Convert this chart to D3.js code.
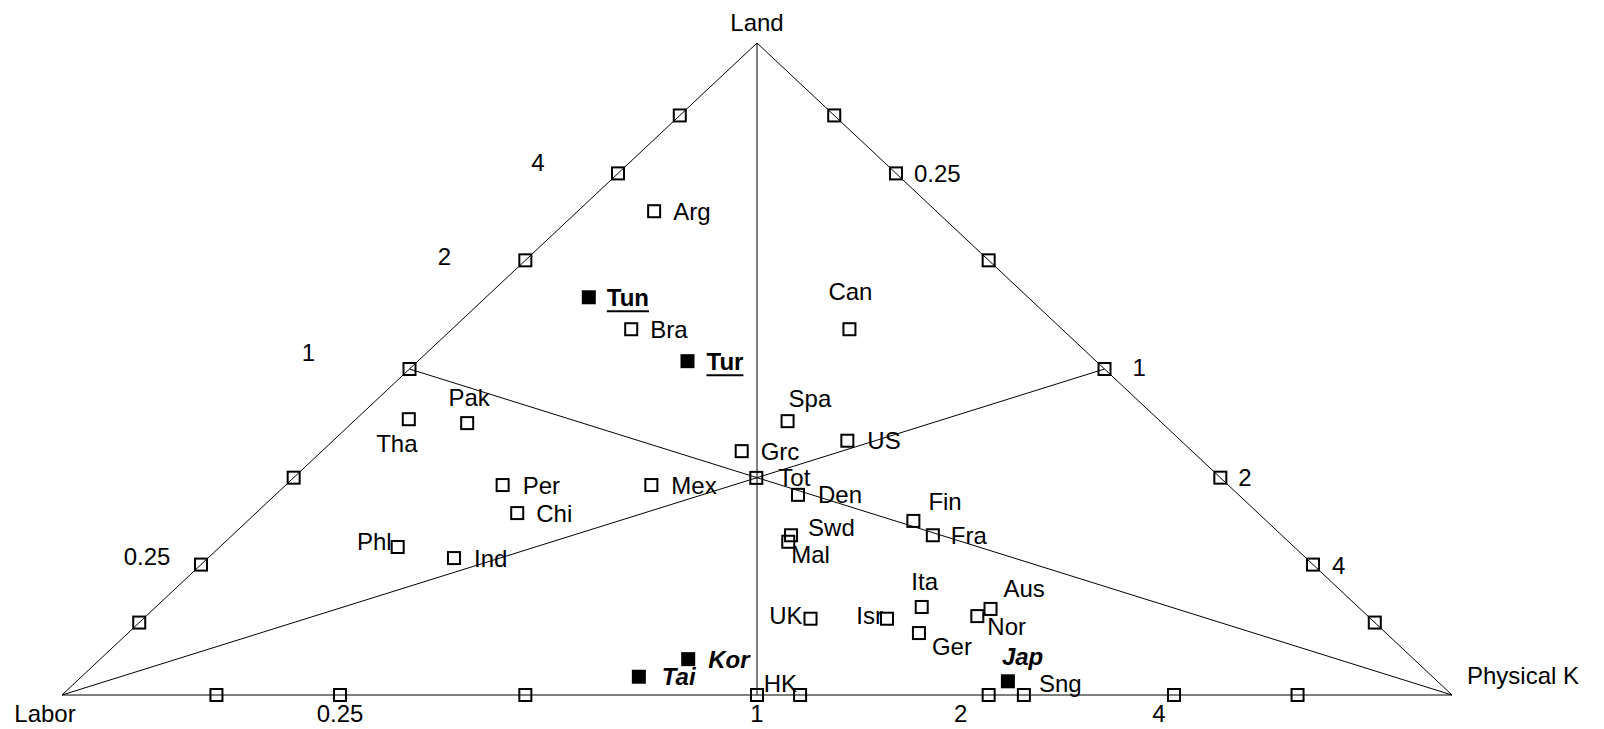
<!DOCTYPE html>
<html lang="en">
<head>
    <meta charset="UTF-8">
    <title>Factor endowment triangle</title>
    <script src="https://d3js.org/d3.v7.min.js"></script>
    <style>
      body { margin: 0; background: #fff; }
      text { font-family: "Liberation Sans", Arial, sans-serif; font-size: 24px; fill: #000; }
    </style>
</head>
<body>
    <script>

      // shares of the three factors (labor share = 1 - capital - land)
      const countries    = ["Arg","Tun","Bra","Tur","Can","Spa","US","Grc","Tot","Pak","Tha","Per","Chi","Mex","Phl","Ind",
                            "Den","Swd","Mal","Fin","Fra","Ita","Aus","Nor","Isr","UK","Ger","Jap","Sng","HK","Kor","Tai"];
      const capitalShare = [0.055,0.074,0.129,0.194,0.286,0.312,0.370,0.302,0.333,0.083,0.038,0.156,0.188,0.263,0.128,0.177,
                            0.376,0.402,0.405,0.479,0.504,0.551,0.602,0.598,0.535,0.480,0.569,0.670,0.692,0.531,0.423,0.401];
      const landShare    = [0.742,0.610,0.561,0.512,0.561,0.420,0.390,0.374,0.333,0.417,0.423,0.322,0.279,0.322,0.227,0.210,
                            0.307,0.245,0.235,0.267,0.245,0.135,0.132,0.121,0.117,0.117,0.095,0.021,0.000,0.000,0.055,0.028];

      const filled     = ["Tun","Tur","Kor","Tai","Jap"];
      const underlined = ["Tun","Tur"];
      const boldItalic = ["Kor","Tai","Jap"];

      // factor ratio ticks on each side of the triangle
      const ratioTicks  = [0.125, 0.25, 0.5, 1, 2, 4, 8];
      const ratioLabels = [0.25, 1, 2, 4];
      const cornerNames = ["Labor", "Physical K", "Land"];

      const W = 1604, H = 729;
      const svg = d3.select("body").append("svg").attr("width", W).attr("height", H);

      const x = d3.scaleLinear().domain([0, 1]).range([62, 1452]);
      const y = d3.scaleLinear().domain([0, 1]).range([695, 43]);

      // ternary -> screen
      function project(k, land){
        return [x(k + land / 2), y(land)];
      }

      const labor = project(0, 0), capital = project(1, 0), land = project(0, 1);
      const centre = project(1/3, 1/3);

      // triangle outline and the three medians
      const g = svg.append("g").attr("stroke", "#000").attr("stroke-width", 1).attr("fill", "none");
      g.append("path").attr("d", d3.line()([labor, capital, land, labor]));
      g.append("line").attr("x1", land[0]).attr("y1", land[1]).attr("x2", project(0.5, 0)[0]).attr("y2", project(0.5, 0)[1]);
      g.append("line").attr("x1", labor[0]).attr("y1", labor[1]).attr("x2", project(0.5, 0.5)[0]).attr("y2", project(0.5, 0.5)[1]);
      g.append("line").attr("x1", capital[0]).attr("y1", capital[1]).attr("x2", project(0, 0.5)[0]).attr("y2", project(0, 0.5)[1]);

      const frac = r => r / (1 + r);

      // tick points along the sides
      const sides = [
        { name: "base",  pt: r => project(frac(r), 0) },          // K / Labor
        { name: "left",  pt: r => project(0, frac(r)) },          // Land / Labor
        { name: "right", pt: r => project(frac(r), 1 - frac(r)) } // K / Land
      ];

      const sq = 12;
      function square(sel, p, solid){
        sel.append("rect")
          .attr("x", p[0] - sq / 2).attr("y", p[1] - sq / 2)
          .attr("width", sq).attr("height", sq)
          .attr("fill", solid ? "#000" : "none")
          .attr("stroke", "#000").attr("stroke-width", 2);
      }

      const tickG = svg.append("g");
      sides.forEach(s => ratioTicks.forEach(r => square(tickG, s.pt(r), false)));

      // where the ratio labels sit relative to their tick
      const labelShift = {
        base:  { 0.25: [0, 18], 1: [0, 18], 2: [-28, 18], 4: [-15, 18] },
        left:  { 0.25: [-54, -8], 1: [-101, -17], 2: [-81, -4], 4: [-80, -11] },
        right: { 0.25: [18, 0], 1: [28, -2], 2: [18, 0], 4: [19, 1] }
      };

      sides.forEach(s => {
        ratioLabels.forEach(r => {
          const p = s.pt(r), d = labelShift[s.name][r];
          svg.append("text")
            .attr("x", p[0] + d[0]).attr("y", p[1] + d[1])
            .attr("text-anchor", s.name == "right" ? "start" : "middle")
            .attr("dominant-baseline", "central")
            .text(r);
        });
      });

      // corner names
      svg.append("text").attr("x", labor[0] - 17).attr("y", labor[1] + 18)
        .attr("text-anchor", "middle").attr("dominant-baseline", "central").text(cornerNames[0]);
      svg.append("text").attr("x", capital[0] + 15).attr("y", capital[1] - 20)
        .attr("dominant-baseline", "central").text(cornerNames[1]);
      svg.append("text").attr("x", land[0]).attr("y", land[1] - 21)
        .attr("text-anchor", "middle").attr("dominant-baseline", "central").text(cornerNames[2]);

      // label placement for each country: [anchor, dx, dy]
      const place = {
        Arg: ["start", 19, 0], Tun: ["start", 18, 0], Bra: ["start", 19, 0], Tur: ["start", 19, 0],
        Can: ["middle", 1, -38], Spa: ["start", 1, -23], US: ["start", 20, 0], Grc: ["start", 19, 0],
        Tot: ["start", 22, 0], Pak: ["middle", 2, -26], Tha: ["middle", -12, 24], Per: ["start", 20, 0],
        Chi: ["start", 19, 0], Mex: ["start", 20, 0], Phl: ["end", -6, -5], Ind: ["start", 20, 0],
        Den: ["start", 20, 0], Swd: ["start", 17, -8], Mal: ["start", 3, 13], Fin: ["start", 15, -19],
        Fra: ["start", 18, 0], Ita: ["middle", 3, -25], Aus: ["start", 13, -20], Nor: ["start", 10, 10],
        Isr: ["end", -4, -3], UK: ["end", -8, -3], Ger: ["start", 13, 13], Jap: ["start", -6, -25],
        Sng: ["start", 15, -12], HK: ["end", -3, -12], Kor: ["start", 20, 0], Tai: ["start", 23, 0]
      };

      const points = countries.map((c, i) => ({ name: c, k: capitalShare[i], land: landShare[i] }));

      const pointG = svg.append("g");
      points.forEach(d => {
        const p = project(d.k, d.land);
        square(pointG, p, filled.includes(d.name));

        const pl = place[d.name];
        const t = pointG.append("text")
          .attr("x", p[0] + pl[1]).attr("y", p[1] + pl[2])
          .attr("text-anchor", pl[0])
          .attr("dominant-baseline", "central")
          .style("font-weight", filled.includes(d.name) ? "bold" : null)
          .style("font-style", boldItalic.includes(d.name) ? "italic" : null)
          .text(d.name);

        if(underlined.includes(d.name)){
          const b = t.node().getBBox();
          pointG.append("line")
            .attr("x1", b.x).attr("x2", b.x + b.width)
            .attr("y1", p[1] + 14).attr("y2", p[1] + 14)
            .attr("stroke", "#000").attr("stroke-width", 2);
        }
      });

    </script>
</body>
</html>
